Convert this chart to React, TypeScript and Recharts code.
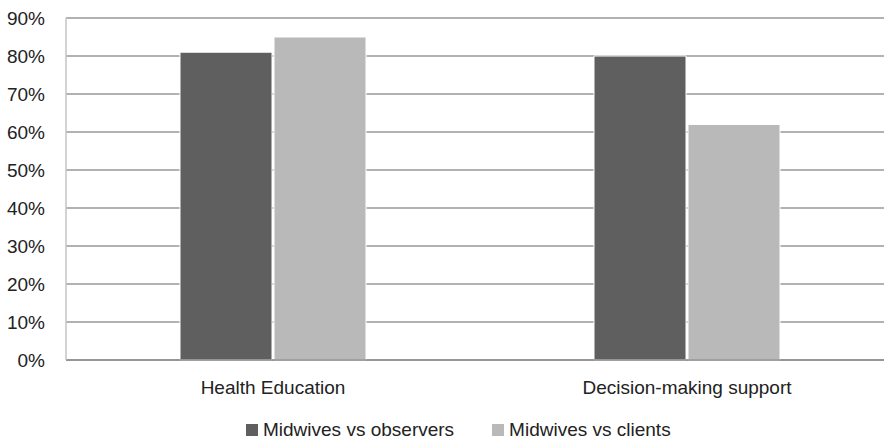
import React from "react";
import { BarChart, Bar, XAxis, YAxis, CartesianGrid, Legend } from "recharts";

const categories = ["Health Education", "Decision-making support"];
const observers = [81, 80];
const clients = [85, 62];
const yTicks = [0, 10, 20, 30, 40, 50, 60, 70, 80, 90];
const seriesNames = ["Midwives vs observers", "Midwives vs clients"];
const seriesColors = ["#5f5f5f", "#b9b9b9"];

const data = categories.map((c, i) => ({
  name: c,
  observers: observers[i],
  clients: clients[i],
}));

const FONT = "'Liberation Sans', Arial, sans-serif";

const LegendContent = () => (
  <div
    style={{
      display: "flex",
      alignItems: "center",
      paddingLeft: 246,
      paddingTop: 19,
      fontFamily: FONT,
      fontSize: 19,
      lineHeight: "22px",
      color: "#222",
    }}
  >
    {seriesNames.map((n, i) => (
      <div key={n} style={{ display: "flex", alignItems: "center", marginRight: 38 }}>
        <div style={{ width: 12, height: 12, background: seriesColors[i], marginRight: 5 }} />
        <span>{n}</span>
      </div>
    ))}
  </div>
);

export default function App() {
  return (
    <div
      style={{
        position: "absolute",
        left: 0,
        top: 0,
        width: 884,
        height: 444,
        overflow: "hidden",
        background: "#fff",
      }}
    >
      <BarChart
        width={900}
        height={444}
        data={data}
        margin={{ top: 18, right: 6, left: 0, bottom: 0 }}
        barSize={92}
        barGap={2}
      >
        <CartesianGrid vertical={false} stroke="#999" strokeWidth={1.5} />
        <XAxis
          dataKey="name"
          tickLine={false}
          tickSize={0}
          tickMargin={21}
          height={40}
          axisLine={{ stroke: "#8c8c8c", strokeWidth: 1.5 }}
          tick={{ fill: "#222", fontSize: 19, fontFamily: FONT }}
        />
        <YAxis
          domain={[0, 90]}
          ticks={yTicks}
          interval={0}
          width={66}
          tickLine={false}
          tickSize={0}
          tickMargin={21}
          axisLine={{ stroke: "#c4c4c4", strokeWidth: 1.5 }}
          tickFormatter={(v: number) => `${v}%`}
          tick={{ fill: "#222", fontSize: 19, fontFamily: FONT }}
        />
        <Legend
          verticalAlign="bottom"
          content={<LegendContent />}
          wrapperStyle={{ left: 0, top: 400, width: 884, height: 44 }}
        />
        <Bar
          dataKey="observers"
          name={seriesNames[0]}
          fill={seriesColors[0]}
          stroke="#fff"
          strokeWidth={1}
          isAnimationActive={false}
        />
        <Bar
          dataKey="clients"
          name={seriesNames[1]}
          fill={seriesColors[1]}
          stroke="#fff"
          strokeWidth={1}
          isAnimationActive={false}
        />
      </BarChart>
    </div>
  );
}
